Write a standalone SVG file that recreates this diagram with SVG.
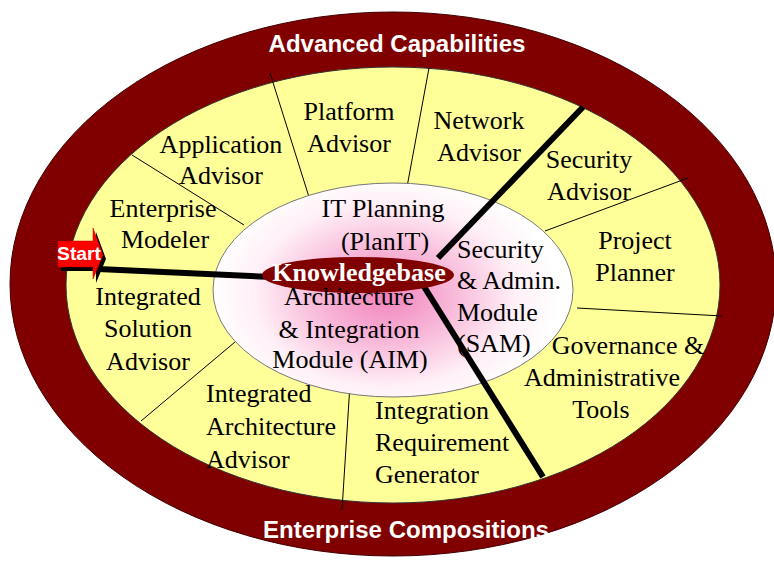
<svg xmlns="http://www.w3.org/2000/svg" width="774" height="563" viewBox="0 0 774 563">
<defs>
<radialGradient id="pink" cx="385" cy="295" r="175" gradientUnits="userSpaceOnUse" gradientTransform="translate(385 295) scale(1 0.7) translate(-385 -295)">
<stop offset="0" stop-color="#f283bd"/>
<stop offset="0.35" stop-color="#f7b3d6"/>
<stop offset="0.75" stop-color="#fff0f7"/>
<stop offset="1" stop-color="#ffffff"/>
</radialGradient>
<style>
.lbl{font-family:"Liberation Serif","Times New Roman",serif;font-size:26px;fill:#000;}
.mid{text-anchor:middle;}
.ring{font-family:"Liberation Sans",Arial,sans-serif;font-weight:bold;font-size:23px;fill:#fff;text-anchor:middle;}
.thin{stroke:#000;stroke-width:1;fill:none;}
.thick{stroke:#000;stroke-width:6;fill:none;}
</style>
</defs>
<rect width="774" height="563" fill="#fff"/>
<g id="outer-ring">
<ellipse cx="393" cy="284" rx="383" ry="272" fill="#800000" stroke="#400000" stroke-width="1"/>
<text class="ring" x="397" y="52" textLength="257" lengthAdjust="spacingAndGlyphs">Advanced Capabilities</text>
<text class="ring" x="406" y="538" textLength="286" lengthAdjust="spacingAndGlyphs">Enterprise Compositions</text>
</g>
<g id="yellow-ring">
<ellipse cx="393" cy="285" rx="327" ry="218" fill="#ffff99" stroke="#333" stroke-width="1"/>
</g>
<g id="dividers">
<line class="thin" x1="270" y1="73" x2="309" y2="197"/>
<line class="thin" x1="429" y1="68" x2="407" y2="187"/>
<line class="thin" x1="132" y1="155" x2="244" y2="225"/>
<line class="thin" x1="688" y1="178" x2="545" y2="231"/>
<line class="thin" x1="577" y1="308" x2="722" y2="316"/>
<line class="thin" x1="235" y1="342" x2="141" y2="421"/>
<line class="thin" x1="350" y1="384" x2="342" y2="510"/>
</g>
<g id="inner-core">
<ellipse cx="393" cy="290" rx="180" ry="107" fill="url(#pink)" stroke="#777" stroke-width="1"/>
</g>
<g id="connectors">
<line class="thick" x1="98" y1="269" x2="272" y2="277"/>
<line class="thick" x1="438" y1="258" x2="583" y2="107"/>
<line class="thick" x1="423" y1="285" x2="543" y2="477"/>
</g>
<g id="knowledgebase">
<ellipse cx="358" cy="275" rx="96" ry="18" fill="#800000"/>
<text x="359" y="281" class="mid" style="font-family:'Liberation Serif','Times New Roman',serif;font-weight:bold;font-size:26px;fill:#fff;">Knowledgebase</text>
</g>
<g id="start">
<polygon points="61,245 96,245 96,232 106,259 96,283 96,271 61,271" fill="#000"/>
<polygon points="58,241 93,241 93,228 103,255 93,279 93,267 58,267" fill="#ff0000" stroke="#b00000" stroke-width="0.5"/>
<text x="79" y="260" style="font-family:'Liberation Sans',Arial,sans-serif;font-weight:bold;font-size:18px;fill:#fff;text-anchor:middle;" textLength="44" lengthAdjust="spacingAndGlyphs">Start</text>
</g>
<g id="application-advisor">
<text class="lbl mid" x="221" y="153">Application</text>
<text class="lbl mid" x="221" y="184">Advisor</text>
</g>
<g id="platform-advisor">
<text class="lbl mid" x="349" y="120">Platform</text>
<text class="lbl mid" x="349" y="152">Advisor</text>
</g>
<g id="network-advisor">
<text class="lbl mid" x="479" y="129">Network</text>
<text class="lbl mid" x="479" y="161">Advisor</text>
</g>
<g id="security-advisor">
<text class="lbl mid" x="589" y="168">Security</text>
<text class="lbl mid" x="589" y="200">Advisor</text>
</g>
<g id="project-planner">
<text class="lbl mid" x="635" y="249">Project</text>
<text class="lbl mid" x="635" y="281">Planner</text>
</g>
<g id="governance-tools">
<text class="lbl mid" x="628" y="354">Governance &amp;</text>
<text class="lbl mid" x="602" y="386">Administrative</text>
<text class="lbl mid" x="601" y="418">Tools</text>
</g>
<g id="integration-requirement-generator">
<text class="lbl" x="375" y="419">Integration</text>
<text class="lbl" x="375" y="451">Requirement</text>
<text class="lbl" x="375" y="483">Generator</text>
</g>
<g id="integrated-architecture-advisor">
<text class="lbl" x="206" y="402">Integrated</text>
<text class="lbl" x="206" y="435">Architecture</text>
<text class="lbl" x="206" y="468">Advisor</text>
</g>
<g id="integrated-solution-advisor">
<text class="lbl mid" x="148" y="305">Integrated</text>
<text class="lbl mid" x="148" y="337">Solution</text>
<text class="lbl mid" x="148" y="370">Advisor</text>
</g>
<g id="enterprise-modeler">
<text class="lbl mid" x="163" y="217">Enterprise</text>
<text class="lbl mid" x="165" y="248">Modeler</text>
</g>
<g id="it-planning">
<text class="lbl mid" x="383" y="217">IT Planning</text>
<text class="lbl mid" x="385" y="250">(PlanIT)</text>
</g>
<g id="sam">
<text class="lbl" x="457" y="258">Security</text>
<text class="lbl" x="457" y="289">&amp; Admin.</text>
<text class="lbl" x="457" y="321">Module</text>
<text class="lbl" x="457" y="352">(SAM)</text>
</g>
<g id="aim">
<text class="lbl mid" x="349" y="305">Architecture</text>
<text class="lbl mid" x="349" y="338">&amp; Integration</text>
<text class="lbl mid" x="350" y="368">Module (AIM)</text>
</g>
</svg>
